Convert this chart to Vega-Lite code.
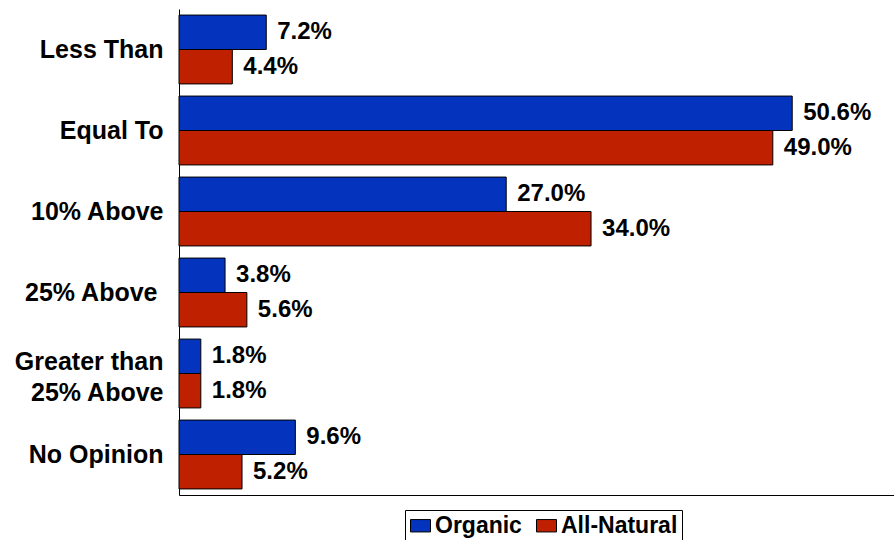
{
  "$schema": "https://vega.github.io/schema/vega-lite/v6.json",
  "width": 715,
  "height": 486,
  "autosize": {"type": "none"},
  "padding": {"left": 179, "top": 9, "right": 0, "bottom": 45},
  "background": "white",
  "config": {
    "view": {"stroke": null},
    "font": "Liberation Sans"
  },
  "data": {
    "values": [
      {"category": "Less Than", "series": "Organic", "value": 0.072},
      {"category": "Less Than", "series": "All-Natural", "value": 0.044},
      {"category": "Equal To", "series": "Organic", "value": 0.506},
      {"category": "Equal To", "series": "All-Natural", "value": 0.490},
      {"category": "10% Above", "series": "Organic", "value": 0.270},
      {"category": "10% Above", "series": "All-Natural", "value": 0.340},
      {"category": "25% Above", "series": "Organic", "value": 0.038},
      {"category": "25% Above", "series": "All-Natural", "value": 0.056},
      {"category": "Greater than|25% Above", "series": "Organic", "value": 0.018},
      {"category": "Greater than|25% Above", "series": "All-Natural", "value": 0.018},
      {"category": "No Opinion", "series": "Organic", "value": 0.096},
      {"category": "No Opinion", "series": "All-Natural", "value": 0.052}
    ]
  },
  "encoding": {
    "y": {
      "field": "category",
      "type": "nominal",
      "sort": null,
      "scale": {"paddingInner": 0.15, "paddingOuter": 0.075},
      "axis": {
        "title": null,
        "ticks": false,
        "grid": false,
        "domainColor": "black",
        "domainWidth": 1,
        "labelFont": "Liberation Sans",
        "labelFontWeight": "bold",
        "labelFontSize": 25,
        "labelColor": "black",
        "labelPadding": {"condition": {"test": "datum.value === '25% Above'", "value": 22}, "value": 16},
        "labelLineHeight": 31,
        "labelLimit": 200,
        "labelOffset": {"condition": {"test": "indexof(datum.value, '|') >= 0", "value": -12}, "value": 0},
        "labelExpr": "split(datum.label, '|')"
      }
    },
    "yOffset": {
      "field": "series",
      "type": "nominal",
      "sort": ["Organic", "All-Natural"]
    },
    "x": {
      "field": "value",
      "type": "quantitative",
      "scale": {"domain": [0, 0.59], "nice": false},
      "axis": {
        "title": null,
        "labels": false,
        "ticks": false,
        "grid": false,
        "domainColor": "black",
        "domainWidth": 1
      }
    }
  },
  "layer": [
    {
      "mark": {"type": "bar", "stroke": "black", "strokeWidth": 1},
      "encoding": {
        "color": {
          "field": "series",
          "type": "nominal",
          "sort": ["Organic", "All-Natural"],
          "scale": {"domain": ["Organic", "All-Natural"], "range": ["#0434BE", "#BE2000"]},
          "legend": {
            "title": null,
            "orient": "none",
            "direction": "horizontal",
            "legendX": 226,
            "legendY": 501,
            "strokeColor": "black",
            "padding": 4,
            "labelFont": "Liberation Sans",
            "labelFontWeight": "bold",
            "labelFontSize": 23,
            "labelColor": "black",
            "labelOffset": 3,
            "columnPadding": 12,
            "symbolType": "M-1,-0.62H1V0.62H-1Z",
            "symbolSize": 400,
            "symbolStrokeColor": "black",
            "symbolStrokeWidth": 1,
            "symbolOpacity": 1
          }
        }
      }
    },
    {
      "mark": {
        "type": "text",
        "align": "left",
        "baseline": "middle",
        "dx": 11,
        "font": "Liberation Sans",
        "fontWeight": "bold",
        "fontSize": 24,
        "color": "black"
      },
      "encoding": {
        "text": {"field": "value", "type": "quantitative", "format": ".1%"}
      }
    }
  ]
}
